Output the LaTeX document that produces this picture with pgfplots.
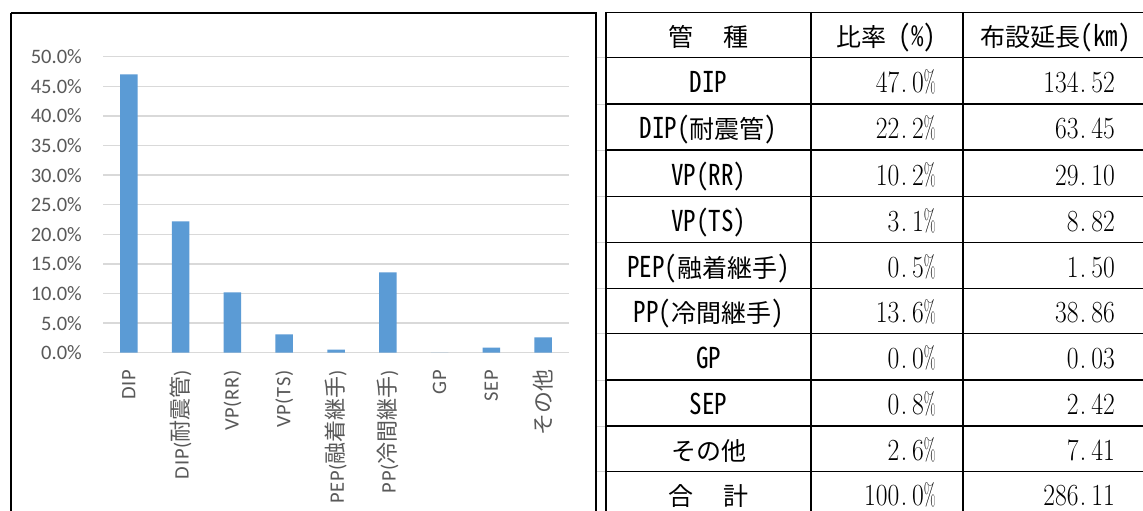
\documentclass[border=0pt]{standalone}
\usepackage{fontspec}
\setmainfont{Carlito}
\newfontfamily\cjk{Noto Sans CJK JP}
\newfontfamily\cjkhw[RawFeature=+hwid]{Noto Sans CJK JP}
\newfontfamily\libser{Latin Modern Roman}
\newfontfamily\xlab[LetterSpace=4]{Carlito}
\usepackage{graphicx}
\usepackage{pgfplots}
\pgfplotsset{compat=1.18}
\definecolor{barblue}{HTML}{5B9BD5}
\definecolor{tickgray}{HTML}{595959}
\definecolor{gridgray}{HTML}{D9D9D9}
\newcommand{\pd}{\makebox[0.5em][l]{\kern1.5pt.}}
\newcommand{\pc}{\scalebox{0.6}[1]{\%}}
\newcommand{\tnum}[2]{\scalebox{1}[1.2]{\fontsize{25.6}{25.6}\libser #1\pd #2}}
\newcommand{\tname}[1]{{\fontsize{25}{25}\cjkhw #1}}
\newcommand{\lt}[1]{\scalebox{1}[1.15]{#1}}
\newcommand{\jl}[1]{{\fontsize{22}{22}\cjk #1}}
\begin{document}
\begin{tikzpicture}
\path[use as bounding box] (0,0) rectangle (1143pt,511pt);
\fill[white] (0,0) rectangle (1143pt,511pt);
\begin{axis}[
  at={(103pt,158.3pt)}, anchor=south west,
  scale only axis, width=466pt, height=296pt,
  xmin=-0.5, xmax=8.5, ymin=0, ymax=50,
  axis line style={draw=none},
  major tick length=0pt,
  ytick={0,5,10,15,20,25,30,35,40,45,50},
  yticklabels={0.0\%,5.0\%,10.0\%,15.0\%,20.0\%,25.0\%,30.0\%,35.0\%,40.0\%,45.0\%,50.0\%},
  ymajorgrids, grid style={gridgray, line width=1.3pt},
  xtick={0,1,2,3,4,5,6,7,8},
  xticklabels={{DIP},{DIP(\jl{耐震管})},{VP(RR)},{VP(TS)},{PEP(\jl{融着継手})},{PP(\jl{冷間継手})},{GP},{SEP},{\jl{その他}}},
  xticklabel style={rotate=90, anchor=east, inner sep=0pt, text=tickgray, font=\fontsize{20.5}{20.5}\xlab},
  xticklabel shift=17pt,
  yticklabel style={anchor=east, inner sep=0pt, text=tickgray, font=\fontsize{20.5}{20.5}\selectfont},
  yticklabel shift=21pt,
  clip=false,
]
\addplot[ybar, bar width=17.5pt, fill=barblue, draw=none] coordinates {
(0,47.02) (1,22.18) (2,10.17) (3,3.08) (4,0.52) (5,13.58) (6,0.01) (7,0.85) (8,2.59)
};
\end{axis}
\begin{scope}[yshift=511pt, x=1pt, y=-1pt]
  % chart frame
  \draw[line width=1.2pt] (11,13) -- (596,13) -- (596,530);
  \draw[line width=1.2pt] (11,13) -- (11,530);
  % faint spreadsheet grid in gap
  \foreach \r in {57.3,104,150,196.7,242.7,288.3,333.3,380,426,471.7}
    \draw[gray!35, line width=0.8pt] (597,\r) -- (605,\r);
  % table lines
  \foreach \r in {12.7,57.3,104,150,196.7,242.7,288.3,333.3,380,426,471.7}
    \draw[line width=1.4pt] (606,\r) -- (1150,\r);
  \foreach \c in {606,811,963}
    \draw[line width=1.4pt] (\c,12) -- (\c,530);
  % header
  \node[anchor=base, inner sep=0pt] at (708.5,47) {\tname{管\hspace{30pt}種}};
  \node[anchor=base, inner sep=0pt] at (886,47) {\tname{比率 \lt{(\%)}}};
  \node[anchor=base, inner sep=0pt] at (1055.5,47) {\tname{布設延長\lt{(km)}}};
  % rows
  \node[anchor=base, inner sep=0pt] at (708.5,92.7) {\tname{\lt{DIP}}};
  \node[anchor=base east, inner sep=0pt] at (936,92.7) {\tnum{47}{0\pc}};
  \node[anchor=base east, inner sep=0pt] at (1115,92.7) {\tnum{134}{52}};
  \node[anchor=base, inner sep=0pt] at (708.5,139) {\tname{\lt{DIP(}耐震管\lt{)}}};
  \node[anchor=base east, inner sep=0pt] at (936,139) {\tnum{22}{2\pc}};
  \node[anchor=base east, inner sep=0pt] at (1115,139) {\tnum{63}{45}};
  \node[anchor=base, inner sep=0pt] at (708.5,185.4) {\tname{\lt{VP(RR)}}};
  \node[anchor=base east, inner sep=0pt] at (936,185.4) {\tnum{10}{2\pc}};
  \node[anchor=base east, inner sep=0pt] at (1115,185.4) {\tnum{29}{10}};
  \node[anchor=base, inner sep=0pt] at (708.5,231.7) {\tname{\lt{VP(TS)}}};
  \node[anchor=base east, inner sep=0pt] at (936,231.7) {\tnum{3}{1\pc}};
  \node[anchor=base east, inner sep=0pt] at (1115,231.7) {\tnum{8}{82}};
  \node[anchor=base, inner sep=0pt] at (708.5,277.5) {\tname{\lt{PEP(}融着継手\lt{)}}};
  \node[anchor=base east, inner sep=0pt] at (936,277.5) {\tnum{0}{5\pc}};
  \node[anchor=base east, inner sep=0pt] at (1115,277.5) {\tnum{1}{50}};
  \node[anchor=base, inner sep=0pt] at (708.5,322.8) {\tname{\lt{PP(}冷間継手\lt{)}}};
  \node[anchor=base east, inner sep=0pt] at (936,322.8) {\tnum{13}{6\pc}};
  \node[anchor=base east, inner sep=0pt] at (1115,322.8) {\tnum{38}{86}};
  \node[anchor=base, inner sep=0pt] at (708.5,368.7) {\tname{\lt{GP}}};
  \node[anchor=base east, inner sep=0pt] at (936,368.7) {\tnum{0}{0\pc}};
  \node[anchor=base east, inner sep=0pt] at (1115,368.7) {\tnum{0}{03}};
  \node[anchor=base, inner sep=0pt] at (708.5,415) {\tname{\lt{SEP}}};
  \node[anchor=base east, inner sep=0pt] at (936,415) {\tnum{0}{8\pc}};
  \node[anchor=base east, inner sep=0pt] at (1115,415) {\tnum{2}{42}};
  \node[anchor=base, inner sep=0pt] at (708.5,460.9) {\tname{その他}};
  \node[anchor=base east, inner sep=0pt] at (936,460.9) {\tnum{2}{6\pc}};
  \node[anchor=base east, inner sep=0pt] at (1115,460.9) {\tnum{7}{41}};
  \node[anchor=base, inner sep=0pt] at (708.5,505.5) {\tname{合\hspace{30pt}計}};
  \node[anchor=base east, inner sep=0pt] at (936,505.5) {\tnum{100}{0\pc}};
  \node[anchor=base east, inner sep=0pt] at (1115,505.5) {\tnum{286}{11}};
\end{scope}
\end{tikzpicture}
\end{document}
